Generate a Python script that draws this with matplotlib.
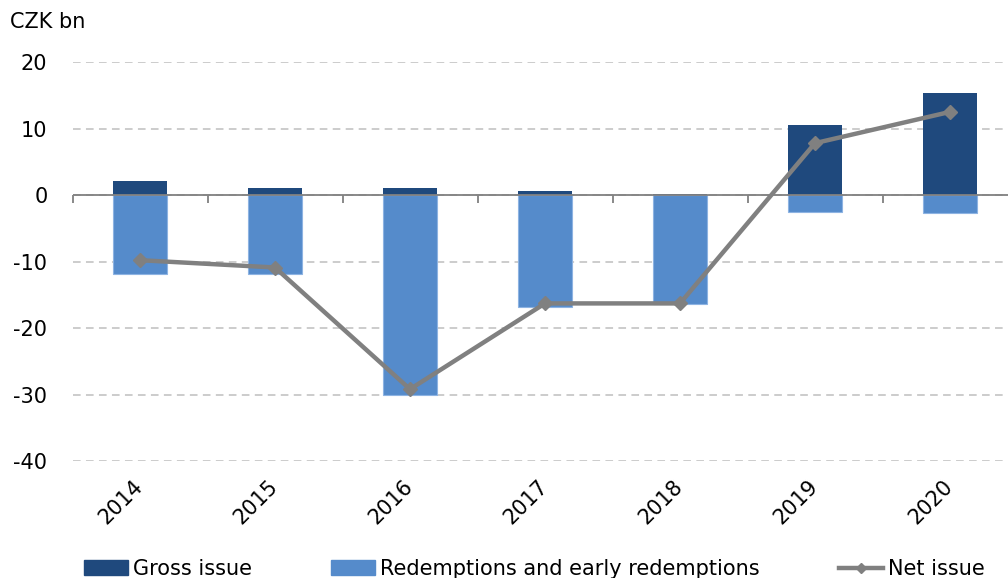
import numpy as np
import matplotlib
matplotlib.use("Agg")
import matplotlib.pyplot as plt
from matplotlib.lines import Line2D
from matplotlib.patches import Patch

# ─── data (CZK bn) ───────────────────────────────────────────────────────────
years       = ["2014", "2015", "2016", "2017", "2018", "2019", "2020"]
gross_issue = [2.1, 1.0, 1.0, 0.6, 0.1, 10.5, 15.3]
redemptions = [-11.9, -11.9, -30.1, -16.9, -16.4, -2.6, -2.7]
net_issue   = [-9.8, -10.9, -29.2, -16.3, -16.3, 7.8, 12.5]

DARK  = "#1F497D"
LIGHT = "#558BCB"
GREY  = "#808080"

plt.rcParams.update({'font.size': 15, 'font.family': 'DejaVu Sans',
                     'axes.unicode_minus': False})

fig = plt.figure(figsize=(10.08, 5.78), dpi=100)
# axes runs a little past the right edge, as in the source chart
ax = fig.add_axes([72.5 / 1008, 0.2024, 945 / 1008, 0.6903])

x = np.arange(len(years))
ax.bar(x, gross_issue, width=0.4, color=DARK, zorder=3)
ax.bar(x, redemptions, width=0.4, color=LIGHT, edgecolor="#8DB3E2",
       linewidth=0.8, zorder=3)
ax.plot(x, net_issue, color=GREY, lw=3.2, marker="D", ms=7,
        mec=GREY, mfc=GREY, zorder=5)

ax.set_xlim(-0.5, len(years) - 0.5)
ax.set_ylim(-40, 20)
ax.set_yticks([-40, -30, -20, -10, 0, 10, 20])
ax.yaxis.grid(True, color="#BFBFBF", linestyle=(0, (5, 3.5)), lw=1.1, zorder=0)
ax.tick_params(axis="y", length=0, pad=18)

ax.set_xticks(x)
ax.set_xticklabels(years, rotation=45, ha="right", va="center",
                   rotation_mode="anchor")
ax.tick_params(axis="x", length=0, pad=16)

for s in ax.spines.values():
    s.set_visible(False)

# zero axis with category-boundary ticks (pointing down only)
ax.axhline(0, color=GREY, lw=1.3, zorder=4)
zero_ax = ax.secondary_xaxis(40 / 60)
for s in zero_ax.spines.values():
    s.set_visible(False)
zero_ax.xaxis.set_ticks_position("bottom")
zero_ax.set_xticks(np.arange(-0.5, len(years) - 0.4, 1.0))
zero_ax.set_xticklabels([])
zero_ax.tick_params(axis="x", which="both", length=6, width=1.3, color=GREY,
                    direction="out", top=False, bottom=True,
                    labeltop=False, labelbottom=False)

fig.text(10 / 1008, 1 - 22 / 578, "CZK bn", fontsize=15, va="center", ha="left")

handles = [Patch(color=DARK), Patch(color=LIGHT),
           Line2D([], [], color=GREY, lw=3.2, marker="D", ms=5)]
labels = ["Gross issue", "Redemptions and early redemptions", "Net issue"]
fig.legend(handles, labels, ncol=3, loc="center left",
           bbox_to_anchor=(84 / 1008, 1 - 569 / 578), frameon=False,
           borderpad=0, borderaxespad=0, handlelength=2.1, handleheight=0.75,
           handletextpad=0.25, columnspacing=3.8, fontsize=15)

fig.savefig("out.png", dpi=100)
